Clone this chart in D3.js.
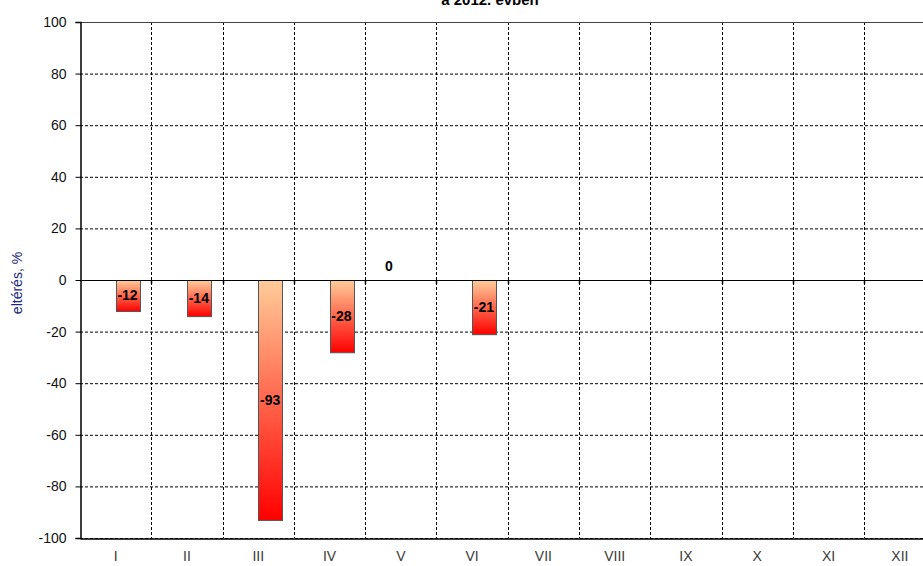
<!DOCTYPE html>
<html>
<head>
<meta charset="utf-8">
<script src="https://cdn.jsdelivr.net/npm/d3@7"></script>
<style>
  body { margin: 0; background: #fff; }
  svg { display: block; font-family: "Liberation Sans", Arial, sans-serif; }
</style>
</head>
<body>
<div id="chart"></div>
<script>
// categories (months)
var months = ["I", "II", "III", "IV", "V", "VI", "VII", "VIII", "IX", "X", "XI", "XII"];
// left series - only a zero label in V
var seriesA = [null, null, null, null, 0, null, null, null, null, null, null, null];
// right series - deviation, %
var seriesB = [-12, -14, -93, -28, null, -21, null, null, null, null, null, null];
var yTicks = [-100, -80, -60, -40, -20, 0, 20, 40, 60, 80, 100];

var W = 923, H = 566;
var margin = { top: 22, left: 80 },
  width = 855.5, // plot runs off the right edge
  height = 516;

var svg = d3.select("#chart").append("svg")
  .attr("width", W)
  .attr("height", H);

// gradient for the bars
var grad = svg.append("defs").append("linearGradient")
  .attr("id", "barGrad")
  .attr("x1", 0).attr("y1", 0).attr("x2", 0).attr("y2", 1);
grad.append("stop").attr("offset", "0%").attr("stop-color", "#ffcc99");
grad.append("stop").attr("offset", "100%").attr("stop-color", "#ff0000");

var g = svg.append("g")
  .attr("transform", "translate(" + margin.left + "," + margin.top + ")");

// scales
var x = d3.scaleBand().domain(months).range([0, width]);
var y = d3.scaleLinear().domain([-100, 100]).range([height, 0]);
var bw = x.bandwidth() / 3;

// horizontal grid
g.selectAll(".hgrid")
  .data(yTicks)
  .enter()
  .append("line")
  .attr("x1", 0).attr("x2", width)
  .attr("y1", function(d) { return y(d) + 0.5; })
  .attr("y2", function(d) { return y(d) + 0.5; })
  .style("stroke", "#000")
  .style("stroke-width", 1)
  .style("stroke-dasharray", "3,2");

// vertical grid at category boundaries
g.selectAll(".vgrid")
  .data(months.slice(1))
  .enter()
  .append("line")
  .attr("x1", function(d) { return Math.round(x(d)) + 0.5; })
  .attr("x2", function(d) { return Math.round(x(d)) + 0.5; })
  .attr("y1", 0).attr("y2", height)
  .style("stroke", "#000")
  .style("stroke-width", 1)
  .style("stroke-dasharray", "3,2");

// top border drawn a bit heavier
g.append("line")
  .attr("x1", 0).attr("x2", width)
  .attr("y1", 0.5).attr("y2", 0.5)
  .style("stroke", "#444")
  .style("stroke-width", 1);

// bars (right series)
var barData = seriesB.map(function(v, i) { return { m: months[i], v: v }; })
  .filter(function(d) { return d.v !== null; });

g.selectAll(".bar")
  .data(barData)
  .enter()
  .append("rect")
  .attr("class", "bar")
  .attr("x", function(d) { return Math.round(x(d.m) + x.bandwidth() / 2) + 0.5; })
  .attr("y", function(d) { return Math.round(y(Math.max(0, d.v))) + 0.5; })
  .attr("width", Math.round(bw))
  .attr("height", function(d) { return Math.abs(y(d.v) - y(0)); })
  .style("fill", "url(#barGrad)")
  .style("stroke", "#555")
  .style("stroke-width", 1);

// zero line
g.append("line")
  .attr("x1", 0).attr("x2", width)
  .attr("y1", Math.round(y(0)) + 0.5).attr("y2", Math.round(y(0)) + 0.5)
  .style("stroke", "#000")
  .style("stroke-width", 1.2);

// small category ticks on the zero line
g.selectAll(".ztick")
  .data(months.slice(1))
  .enter()
  .append("line")
  .attr("x1", function(d) { return Math.round(x(d)) + 0.5; })
  .attr("x2", function(d) { return Math.round(x(d)) + 0.5; })
  .attr("y1", y(0)).attr("y2", y(0) + 4)
  .style("stroke", "#000")
  .style("stroke-width", 1.5);

// bar labels
g.selectAll(".lblB")
  .data(barData)
  .enter()
  .append("text")
  .attr("x", function(d) { return x(d.m) + x.bandwidth() / 2 + bw / 2; })
  .attr("y", function(d) { return (y(d.v) + y(0)) / 2 + 5; })
  .attr("text-anchor", "middle")
  .attr("font-size", 14)
  .attr("font-weight", "bold")
  .attr("fill", "#000")
  .text(function(d) { return String(d.v); });

// left series labels (only the zero)
var aData = seriesA.map(function(v, i) { return { m: months[i], v: v }; })
  .filter(function(d) { return d.v !== null; });
g.selectAll(".lblA")
  .data(aData)
  .enter()
  .append("text")
  .attr("x", function(d) { return x(d.m) + x.bandwidth() / 2 - bw / 2; })
  .attr("y", function(d) { return y(d.v) - 9; })
  .attr("text-anchor", "middle")
  .attr("font-size", 14)
  .attr("font-weight", "bold")
  .attr("fill", "#000")
  .text(function(d) { return String(d.v); });

// y axis
var yAxis = g.append("g")
  .attr("transform", "translate(0.5,0)")
  .call(d3.axisLeft(y).tickValues(yTicks).tickSize(5).tickPadding(9)
    .tickFormat(function(d) { return String(d); }));
yAxis.select(".domain").style("stroke", "#000").style("stroke-width", 1.5);
yAxis.selectAll("text")
  .attr("font-size", 14)
  .attr("font-family", "Liberation Sans, Arial, sans-serif")
  .attr("fill", "#111");

// x axis at the bottom
var xAxis = g.append("g")
  .attr("transform", "translate(0," + (height + 0.5) + ")")
  .call(d3.axisBottom(x).tickSize(0).tickPadding(13));
xAxis.select(".domain").style("stroke", "#000").style("stroke-width", 1.5);
xAxis.selectAll("text")
  .attr("font-size", 14)
  .attr("font-family", "Liberation Sans, Arial, sans-serif")
  .attr("fill", "#3a3a3a");

// y axis title
svg.append("text")
  .attr("transform", "translate(22," + 283 + ") rotate(-90)")
  .attr("text-anchor", "middle")
  .attr("font-size", 14)
  .attr("fill", "#1a2a80")
  .text("eltérés, %");

// chart title, cut off at the top as in the reference
svg.append("text")
  .attr("x", 490)
  .attr("y", 5)
  .attr("text-anchor", "middle")
  .attr("font-size", 15)
  .attr("font-weight", "bold")
  .attr("fill", "#000")
  .text("a 2012. évben");
</script>
</body>
</html>
